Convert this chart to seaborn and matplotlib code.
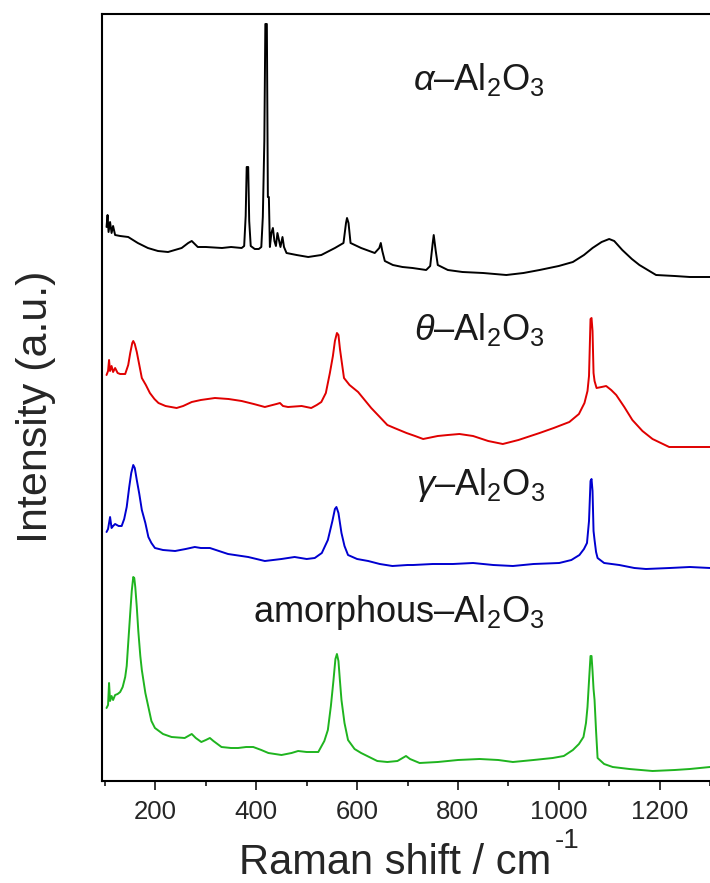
import numpy as np
import pandas as pd
import matplotlib
matplotlib.use("Agg")
import matplotlib.pyplot as plt
import seaborn as sns

# Raman shift (cm^-1) and stacked intensity (a.u., offsets included) for each phase
alpha_x = [103, 105, 107, 110, 113, 116, 120, 130, 146, 165, 185, 205, 225, 252, 265, 272, 284, 300,
           332, 350, 371, 376, 379, 381, 384, 386, 389, 397, 405, 410, 413, 416, 418, 421, 423, 425,
           427, 430, 433, 436, 439, 442, 445, 448, 452, 455, 460, 480, 503, 529, 556, 573, 578, 580,
           583, 587, 608, 635, 644, 647, 650, 655, 671, 690, 710, 737, 745, 750, 752, 756, 760, 780,
           809, 850, 896, 930, 962, 1000, 1028, 1050, 1067, 1085, 1100, 1110, 1126, 1145, 1160, 1193,
           1230, 1260, 1300]
alpha_y = [554, 566, 549, 559, 548, 555, 546, 545, 544, 538, 533, 530, 529, 533, 538, 540, 534, 534,
           533, 534, 533, 535, 565, 614, 614, 560, 535, 532, 532, 534, 564, 640, 757, 757, 584, 584,
           534, 548, 553, 540, 535, 548, 541, 534, 544, 534, 528, 526, 524, 526, 533, 538, 558, 563,
           558, 538, 533, 528, 533, 538, 530, 520, 516, 514, 513, 511, 515, 538, 546, 530, 516, 511,
           509, 508, 506, 508, 511, 515, 519, 526, 533, 539, 542, 540, 531, 522, 516, 506,
           505, 504, 504]

theta_x = [103, 106, 108, 110, 113, 116, 120, 125, 130, 140, 146, 150, 154, 156, 159, 163, 168, 173,
           181, 189, 198, 206, 220, 242, 255, 272, 290, 318, 345, 371, 395, 417, 440, 447, 453, 463,
           490, 509, 520, 529, 538, 546, 552, 556, 560, 563, 566, 569, 574, 585, 602, 615, 628, 645,
           660, 674, 698, 715, 731, 760, 780, 803, 830, 860, 889, 920, 962, 990, 1021, 1040, 1051,
           1057, 1060, 1063, 1065, 1067, 1069, 1071, 1075, 1085, 1094, 1104, 1114, 1130, 1146, 1166,
           1186, 1219, 1250, 1300]
theta_y = [406, 410, 421, 410, 415, 409, 413, 408, 407, 407, 416, 428, 438, 440, 437, 429, 416, 403,
           396, 388, 382, 378, 375, 373, 375, 379, 381, 383, 382, 380, 377, 374, 377, 378, 375, 374,
           375, 373, 376, 379, 388, 408, 425, 440, 448, 446, 432, 421, 403, 396, 389, 381, 373, 364,
           356, 353, 348, 345, 342, 345, 346, 347, 345, 340, 337, 341, 348, 353, 359, 367, 378,
           390, 405, 462, 463, 450, 408, 400, 393, 394, 395, 391, 386, 374, 361, 350,
           342, 334, 334, 334]

gamma_x = [103, 106, 110, 113, 116, 120, 127, 133, 138, 143, 148, 152, 156, 159, 163, 168, 173, 180,
           186, 192, 199, 215, 239, 260, 278, 290, 308, 320, 344, 384, 417, 450, 476, 500, 516, 530,
           542, 551, 556, 559, 563, 569, 575, 582, 600, 622, 645, 670, 700, 711, 750, 790, 830, 870,
           909, 950, 1001, 1025, 1041, 1050, 1056, 1060, 1063, 1065, 1067, 1069, 1071, 1074, 1077,
           1090, 1120, 1150, 1173, 1220, 1260, 1300]
gamma_y = [249, 252, 264, 253, 255, 257, 255, 255, 262, 274, 294, 308, 316, 313, 301, 287, 271, 258,
           244, 238, 233, 231, 230, 232, 234, 233, 233, 231, 227, 224, 220, 222, 224, 222, 223, 228,
           241, 260, 272, 274, 268, 248, 235, 226, 222, 220, 217, 215, 216, 216, 217, 217, 218, 216,
           215, 217, 218, 221, 226, 232, 238, 260, 300, 302, 290, 250, 241, 229, 223,
           218, 216, 213, 212, 213, 214, 213]

amorph_x = [103, 106, 108, 110, 113, 116, 120, 125, 130, 135, 140, 143, 146, 150, 153, 156, 158, 160,
            163, 166, 170, 173, 180, 186, 192, 199, 215, 232, 258, 265, 272, 280, 291, 300, 308, 315,
            331, 350, 364, 380, 394, 410, 424, 450, 470, 483, 500, 523, 535, 542, 548, 553, 557, 560,
            563, 566, 569, 575, 582, 595, 608, 640, 660, 680, 697, 705, 724, 760, 800, 843, 880, 909,
            950, 988, 1010, 1028, 1040, 1049, 1054, 1057, 1060, 1063, 1065, 1067, 1069, 1071, 1074,
            1077, 1090, 1107, 1140, 1186, 1230, 1260, 1300]
amorph_y = [73, 76, 98, 80, 85, 81, 86, 87, 89, 94, 104, 115, 138, 168, 190, 204, 203, 194,
            174, 150, 125, 111, 88, 74, 60, 53, 47, 44, 43, 45, 47, 43, 39, 41, 43, 40,
            34, 33, 33, 34, 34, 31, 28, 26, 28, 30, 29, 29, 40, 51, 75, 100, 122, 127,
            120, 100, 81, 58, 41, 32, 28, 20, 19, 20, 25, 22, 18, 19, 21, 22, 21, 19,
            21, 23, 25, 31, 37, 44, 58, 74, 100, 125, 125, 110, 92, 81, 50,
            23, 17, 14, 12, 10, 11, 12, 14]

phases = ["alpha", "theta", "gamma", "amorphous"]
colors = ["#000000", "#E00000", "#0000D0", "#1FB41F"]
labels = [r"$\alpha$–Al$_2$O$_3$", r"$\theta$–Al$_2$O$_3$",
          r"$\gamma$–Al$_2$O$_3$", r"amorphous–Al$_2$O$_3$"]
# label anchor (right edge, baseline) in data coordinates
label_x = [972, 972, 972, 972]
label_y = [691, 441, 286, 159]

xmajor = [200, 400, 600, 800, 1000, 1200]
xminor = [100, 300, 500, 700, 900, 1100, 1300]

frames = []
for name, xs, ys in zip(phases, [alpha_x, theta_x, gamma_x, amorph_x],
                        [alpha_y, theta_y, gamma_y, amorph_y]):
    frames.append(pd.DataFrame({"shift": xs, "intensity": ys, "phase": name}))
df = pd.concat(frames, ignore_index=True)

sns.set_style("ticks")
plt.rcParams["font.family"] = ["Liberation Sans", "DejaVu Sans"]
plt.rcParams["mathtext.fontset"] = "custom"
plt.rcParams["mathtext.rm"] = "Liberation Sans"
plt.rcParams["mathtext.it"] = "Liberation Sans:italic"
plt.rcParams["mathtext.bf"] = "Liberation Sans:bold"

fig = plt.figure(figsize=(7.1, 8.83), dpi=100)
ax = fig.add_axes([102 / 710, 102 / 883, 608 / 710, 767 / 883])

sns.lineplot(data=df, x="shift", y="intensity", hue="phase", hue_order=phases,
             palette=dict(zip(phases, colors)), estimator=None, sort=False,
             linewidth=1.4, legend=False, ax=ax)

for lab, lx, ly in zip(labels, label_x, label_y):
    ax.text(lx, ly, lab, ha="right", va="baseline", fontsize=26, color="#1a1a1a")

ax.set_xlim(94, 1300)
ax.set_ylim(0, 767)
ax.set_yticks([])
ax.set_xticks(xmajor)
ax.set_xticks(xminor, minor=True)
ax.tick_params(axis="x", which="major", direction="out", length=6.5, width=1.3,
               labelsize=18.5, pad=7, top=False)
ax.tick_params(axis="x", which="minor", direction="out", length=3.5, width=1.3, top=False)
ax.set_xlabel("")
ax.set_ylabel("")
for side in ["left", "bottom", "top"]:
    ax.spines[side].set_linewidth(1.5)
    ax.spines[side].set_color("black")
ax.spines["right"].set_visible(False)

fig.text(395 / 710, 1 - 874 / 883, "Raman shift / cm", ha="center", va="baseline", fontsize=30)
fig.text(567 / 710, 1 - 848 / 883, "-1", ha="center", va="baseline", fontsize=20)
fig.text(36 / 710, 1 - 407 / 883, "Intensity (a.u.)", ha="center", va="center",
         rotation=90, fontsize=31)

fig.savefig("out.png", dpi=100)
